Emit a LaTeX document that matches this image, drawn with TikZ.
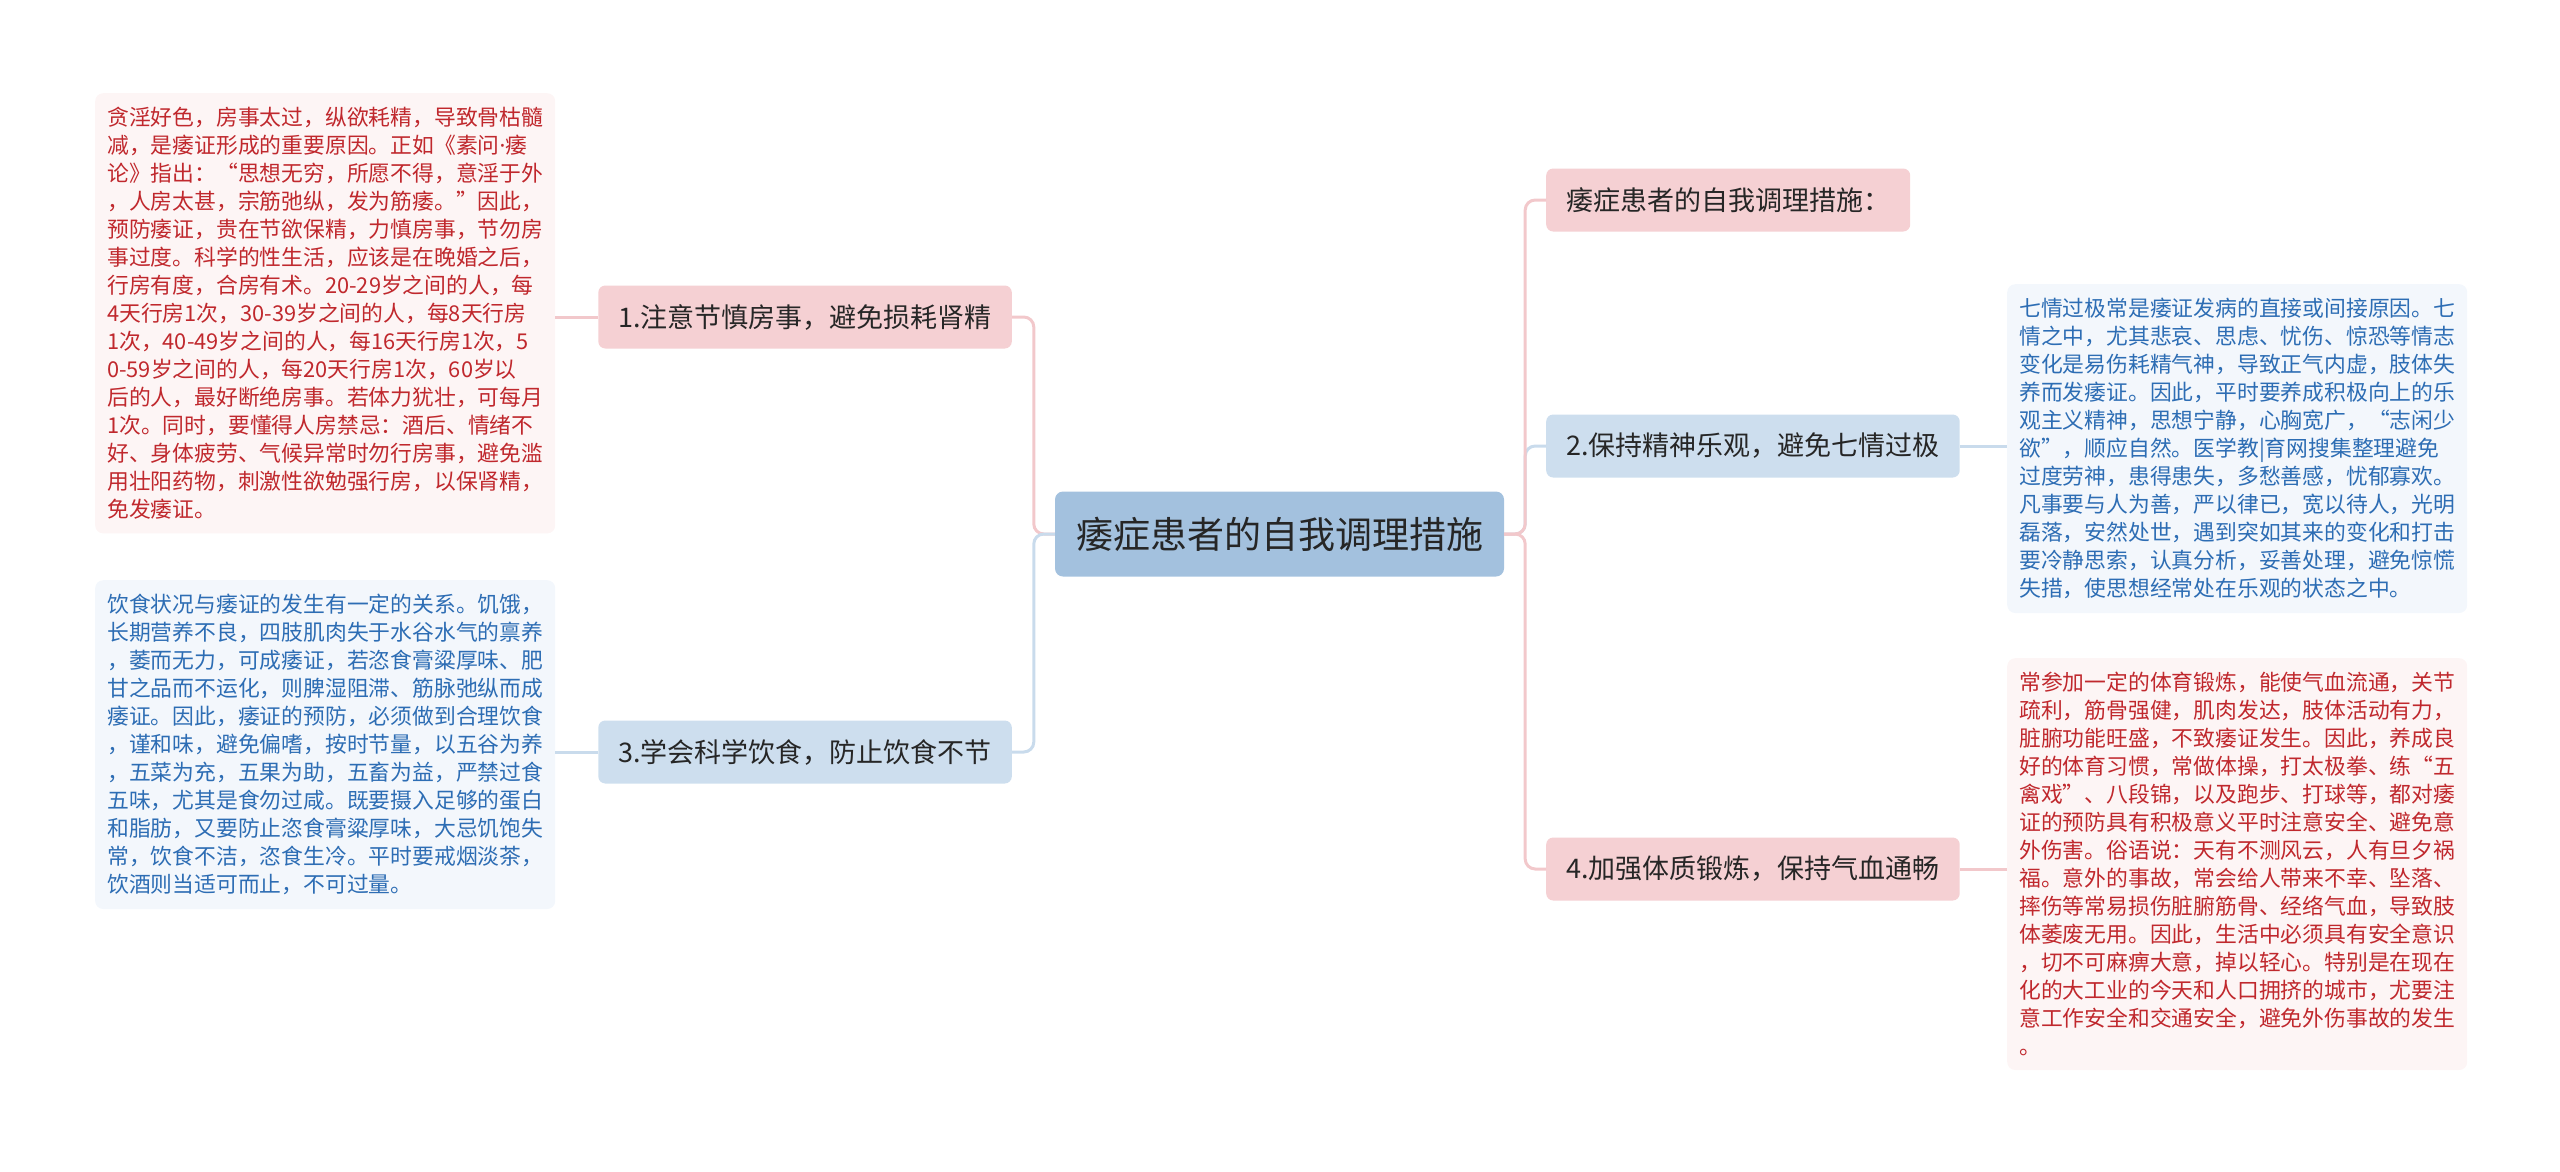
\documentclass[tikz,border=0pt]{standalone}
\usepackage{fontspec}
\setmainfont{Noto Sans CJK SC}
\newfontfamily\latinfont{Noto Sans}
\usepackage{tikz}
\definecolor{rootblue}{HTML}{A3C1DE}
\definecolor{branchpink}{HTML}{F5D0D3}
\definecolor{branchblue}{HTML}{CDDEEE}
\definecolor{notepink}{HTML}{FDF5F5}
\definecolor{noteblue}{HTML}{F3F7FC}
\definecolor{textred}{HTML}{C0282D}
\definecolor{textblue}{HTML}{2D6DB4}
\definecolor{linkpink}{HTML}{F2C8CB}
\definecolor{linkblue}{HTML}{C9DBEC}
\tikzset{
  rootnode/.style={fill=rootblue, rounded corners=8pt, text=black!85, font={\fontsize{37}{44}\selectfont}, inner xsep=21pt, minimum height=85pt},
  branch/.style={rounded corners=7pt, text=black!85, font={\fontsize{27}{32}\selectfont}, inner xsep=20pt, minimum height=63pt},
  note/.style={rounded corners=8pt, anchor=north west, text width=436pt, align=left, inner xsep=12pt, inner ysep=14pt, font={\fontsize{21.8}{28}\selectfont}},
  link/.style={line width=3pt, rounded corners=10pt}
}

\begin{document}
\begin{tikzpicture}[x=1pt,y=-1pt]
            \useasboundingbox (0,0) rectangle (2560,1171);
            \node[rootnode] (root) at (1279.5,534) {痿症患者的自我调理措施};
            \node[branch, fill=branchpink, anchor=west] (head) at (1546,200) {痿症患者的自我调理措施：};
            \node[branch, fill=branchblue, anchor=west] (b2) at (1546,446) {2.保持精神乐观，避免七情过极};
            \node[branch, fill=branchpink, anchor=west] (b4) at (1546,869) {4.加强体质锻炼，保持气血通畅};
            \node[branch, fill=branchpink, anchor=east] (b1) at (1012,317) {1.注意节慎房事，避免损耗肾精};
            \node[branch, fill=branchblue, anchor=east] (b3) at (1012,752) {3.学会科学饮食，防止饮食不节};
            \node[note, fill=notepink, text=textred] (n1) at (95,93) {贪淫好色，房事太过，纵欲耗精，导致骨枯髓\\减，是痿证形成的重要原因。正如《素问{\latinfont ·}痿\\论》指出：“思想无穷，所愿不得，意淫于外\\，人房太甚，宗筋弛纵，发为筋痿。”因此，\\预防痿证，贵在节欲保精，力慎房事，节勿房\\事过度。科学的性生活，应该是在晚婚之后，\\行房有度，合房有术。20-29岁之间的人，每\\4天行房1次，30-39岁之间的人，每8天行房\\1次，40-49岁之间的人，每16天行房1次，5\\0-59岁之间的人，每20天行房1次，60岁以\\后的人，最好断绝房事。若体力犹壮，可每月\\1次。同时，要懂得人房禁忌：酒后、情绪不\\好、身体疲劳、气候异常时勿行房事，避免滥\\用壮阳药物，刺激性欲勉强行房，以保肾精，\\免发痿证。};
            \node[note, fill=noteblue, text=textblue] (n3) at (95,580) {饮食状况与痿证的发生有一定的关系。饥饿，\\长期营养不良，四肢肌肉失于水谷水气的禀养\\，萎而无力，可成痿证，若恣食膏粱厚味、肥\\甘之品而不运化，则脾湿阻滞、筋脉弛纵而成\\痿证。因此，痿证的预防，必须做到合理饮食\\，谨和味，避免偏嗜，按时节量，以五谷为养\\，五菜为充，五果为助，五畜为益，严禁过食\\五味，尤其是食勿过咸。既要摄入足够的蛋白\\和脂肪，又要防止恣食膏粱厚味，大忌饥饱失\\常，饮食不洁，恣食生冷。平时要戒烟淡茶，\\饮酒则当适可而止，不可过量。};
            \node[note, fill=noteblue, text=textblue] (n2) at (2007,284) {七情过极常是痿证发病的直接或间接原因。七\\情之中，尤其悲哀、思虑、忧伤、惊恐等情志\\变化是易伤耗精气神，导致正气内虚，肢体失\\养而发痿证。因此，平时要养成积极向上的乐\\观主义精神，思想宁静，心胸宽广，“志闲少\\欲”，顺应自然。医学教|育网搜集整理避免\\过度劳神，患得患失，多愁善感，忧郁寡欢。\\凡事要与人为善，严以律已，宽以待人，光明\\磊落，安然处世，遇到突如其来的变化和打击\\要冷静思索，认真分析，妥善处理，避免惊慌\\失措，使思想经常处在乐观的状态之中。};
            \node[note, fill=notepink, text=textred] (n4) at (2007,658) {常参加一定的体育锻炼，能使气血流通，关节\\疏利，筋骨强健，肌肉发达，肢体活动有力，\\脏腑功能旺盛，不致痿证发生。因此，养成良\\好的体育习惯，常做体操，打太极拳、练“五\\禽戏”、八段锦，以及跑步、打球等，都对痿\\证的预防具有积极意义平时注意安全、避免意\\外伤害。俗语说：天有不测风云，人有旦夕祸\\福。意外的事故，常会给人带来不幸、坠落、\\摔伤等常易损伤脏腑筋骨、经络气血，导致肢\\体萎废无用。因此，生活中必须具有安全意识\\，切不可麻痹大意，掉以轻心。特别是在现在\\化的大工业的今天和人口拥挤的城市，尤要注\\意工作安全和交通安全，避免外伤事故的发生\\。};
            \draw[link, linkpink] (root.west) -- ++(-21,0) |- (b1.east);
            \draw[link, linkblue] (root.west) -- ++(-21,0) |- (b3.east);
            \draw[link, linkblue] (root.east) -- ++(21,0) |- (b2.west);
            \draw[link, linkpink] (root.east) -- ++(21,0) |- (head.west);
            \draw[link, linkpink] (root.east) -- ++(21,0) |- (b4.west);
            \draw[link, linkpink] (b1.west) -- (b1.west -| n1.east);
            \draw[link, linkblue] (b3.west) -- (b3.west -| n3.east);
            \draw[link, linkblue] (b2.east) -- (b2.east -| n2.west);
            \draw[link, linkpink] (b4.east) -- (b4.east -| n4.west);
        \end{tikzpicture}
\end{document}
